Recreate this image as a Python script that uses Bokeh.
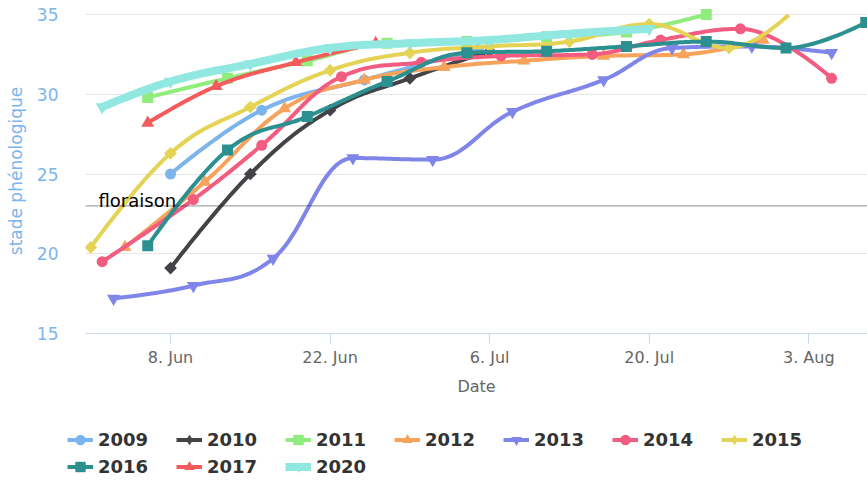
import numpy as np
import pandas as pd
from bokeh.plotting import figure
from bokeh.layouts import column, row
from bokeh.models import Range1d, FixedTicker, Span, Label, Legend, LegendItem
from bokeh.embed import file_html
from bokeh.resources import INLINE

# ---------------- data (dates as MM-DD, values = stade phénologique) ----------------
years = ["2009", "2010", "2011", "2012", "2013", "2014", "2015", "2016", "2017", "2020"]

dates_2009 = ["06-08", "06-16", "06-25", "07-05"]
vals_2009 = [25.0, 29.0, 30.9, 32.8]

dates_2010 = ["06-08", "06-15", "06-22", "06-29", "07-06"]
vals_2010 = [19.1, 25.0, 29.0, 31.0, 32.7]

dates_2011 = ["06-06", "06-13", "06-20", "06-27", "07-04", "07-11", "07-18", "07-25"]
vals_2011 = [29.8, 31.0, 32.1, 33.2, 33.3, 33.6, 33.9, 35.0]

dates_2012 = ["06-04", "06-11", "06-18", "06-25", "07-02", "07-09", "07-16", "07-23", "07-30"]
vals_2012 = [20.4, 24.5, 29.1, 30.9, 31.7, 32.1, 32.4, 32.5, 33.4]

dates_2013 = ["06-03", "06-10", "06-17", "06-24", "07-01", "07-08", "07-16", "07-22", "07-29", "08-05"]
vals_2013 = [17.2, 18.0, 19.7, 26.0, 25.9, 28.9, 30.9, 32.9, 33.0, 32.6]

dates_2014 = ["06-02", "06-10", "06-16", "06-23", "06-30", "07-07", "07-15", "07-21", "07-28", "08-05"]
vals_2014 = [19.5, 23.4, 26.8, 31.1, 32.0, 32.4, 32.5, 33.4, 34.1, 31.0]

dates_2015 = ["06-01", "06-08", "06-15", "06-22", "06-29", "07-06", "07-13", "07-20", "07-27", "08-03"]
vals_2015 = [20.4, 26.3, 29.2, 31.5, 32.6, 33.0, 33.3, 34.4, 32.9, 36.2]

dates_2016 = ["06-06", "06-13", "06-20", "06-27", "07-04", "07-11", "07-18", "07-25", "08-01", "08-08"]
vals_2016 = [20.5, 26.5, 28.6, 30.8, 32.6, 32.7, 33.0, 33.3, 32.9, 34.5]

dates_2017 = ["06-06", "06-12", "06-19", "06-26"]
vals_2017 = [28.2, 30.5, 32.0, 33.2]

dates_2020 = ["06-02", "06-08", "06-15", "06-22", "06-29", "07-06", "07-13", "07-20"]
vals_2020 = [29.2, 30.8, 31.9, 32.9, 33.2, 33.4, 33.8, 34.1]

tick_dates = ["06-08", "06-22", "07-06", "07-20", "08-03"]
tick_labels = ["8. Jun", "22. Jun", "6. Jul", "20. Jul", "3. Aug"]
y_ticks = [15, 20, 25, 30, 35]
floraison_value = 23

series_dates = [dates_2009, dates_2010, dates_2011, dates_2012, dates_2013,
                dates_2014, dates_2015, dates_2016, dates_2017, dates_2020]
series_vals = [vals_2009, vals_2010, vals_2011, vals_2012, vals_2013,
               vals_2014, vals_2015, vals_2016, vals_2017, vals_2020]

# ---------------- styles ----------------
colors = ["#7cb5ec", "#434348", "#90ed7d", "#f7a35c", "#8085e9",
          "#f15c80", "#e4d354", "#2b908f", "#f45b5b", "#91e8e1"]
markers = ["circle", "diamond", "square", "triangle", "inverted_triangle"]
FONT = "DejaVu Sans"


def doy(md):
    return pd.Timestamp("2021-" + md).dayofyear


def spline(xs, ys, n=30):
    """Highcharts-like spline path (smoothing 1.5) through the points."""
    xs = np.asarray(xs, float)
    ys = np.asarray(ys, float)
    m = len(xs)
    s, d = 1.5, 2.5
    lc = [(xs[i], ys[i]) for i in range(m)]
    rc = [(xs[i], ys[i]) for i in range(m)]
    for i in range(1, m - 1):
        px, py = xs[i], ys[i]
        lx, ly = xs[i - 1], ys[i - 1]
        nx, ny = xs[i + 1], ys[i + 1]
        lcx, lcy = (s * px + lx) / d, (s * py + ly) / d
        rcx, rcy = (s * px + nx) / d, (s * py + ny) / d
        corr = 0.0
        if rcx != lcx:
            corr = (rcy - lcy) * (rcx - px) / (rcx - lcx) + py - rcy
        lcy += corr
        rcy += corr
        if lcy > ly and lcy > py:
            lcy = max(ly, py); rcy = 2 * py - lcy
        elif lcy < ly and lcy < py:
            lcy = min(ly, py); rcy = 2 * py - lcy
        if rcy > ny and rcy > py:
            rcy = max(ny, py); lcy = 2 * py - rcy
        elif rcy < ny and rcy < py:
            rcy = min(ny, py); lcy = 2 * py - rcy
        lc[i] = (lcx, lcy)
        rc[i] = (rcx, rcy)
    outx, outy = [xs[0]], [ys[0]]
    t = np.linspace(0, 1, n)[1:]
    for i in range(1, m):
        p0 = np.array([xs[i - 1], ys[i - 1]])
        c1 = np.array(rc[i - 1])
        c2 = np.array(lc[i])
        p3 = np.array([xs[i], ys[i]])
        pts = ((1 - t) ** 3)[:, None] * p0 + (3 * (1 - t) ** 2 * t)[:, None] * c1 \
            + (3 * (1 - t) * t ** 2)[:, None] * c2 + (t ** 3)[:, None] * p3
        outx.extend(pts[:, 0])
        outy.extend(pts[:, 1])
    return np.array(outx), np.array(outy)


y_top = max(y_ticks)
x_start = doy(tick_dates[0]) - 7.46
x_end = doy(tick_dates[-1]) + 5.15

p = figure(width=867, height=403, output_backend="svg", toolbar_location=None,
           x_range=Range1d(x_start, x_end),
           y_range=Range1d(min(y_ticks), y_top + 6 / 15.95),
           min_border_left=85, min_border_right=0, min_border_top=8,
           min_border_bottom=70)
p.outline_line_color = None
p.xgrid.grid_line_color = None
p.ygrid.grid_line_color = "#e6e6e6"
p.ygrid.grid_line_width = 1

tick_x = [doy(t) for t in tick_dates]
p.xaxis.ticker = FixedTicker(ticks=tick_x)
p.xaxis.major_label_overrides = {int(k): v for k, v in zip(tick_x, tick_labels)}
p.xaxis.axis_line_color = "#ccd6eb"
p.xaxis.major_tick_line_color = "#ccd6eb"
p.xaxis.major_tick_out = 10
p.xaxis.major_tick_in = 0
p.xaxis.minor_tick_line_color = None
p.xaxis.major_label_text_color = "#666666"
p.xaxis.major_label_text_font = FONT
p.xaxis.major_label_text_font_size = "16px"
p.xaxis.major_label_standoff = 4
p.xaxis.axis_label = "Date"
p.xaxis.axis_label_text_color = "#666666"
p.xaxis.axis_label_text_font = FONT
p.xaxis.axis_label_text_font_size = "16px"
p.xaxis.axis_label_text_font_style = "normal"
p.xaxis.axis_label_standoff = 7

p.yaxis.ticker = FixedTicker(ticks=y_ticks)
p.yaxis.axis_line_color = None
p.yaxis.major_tick_line_color = None
p.yaxis.minor_tick_line_color = None
p.yaxis.major_label_text_color = "#7cb5ec"
p.yaxis.major_label_text_font = FONT
p.yaxis.major_label_text_font_size = "17px"
p.yaxis.major_label_standoff = 21
p.yaxis.axis_label = "stade phénologique"
p.yaxis.axis_label_text_color = "#7cb5ec"
p.yaxis.axis_label_text_font = FONT
p.yaxis.axis_label_text_font_size = "17px"
p.yaxis.axis_label_text_font_style = "normal"
p.yaxis.axis_label_standoff = 8

p.add_layout(Span(location=floraison_value, dimension="width", line_color="#222222",
                  line_dash="1 1", line_width=1))
p.add_layout(Label(x=13, x_units="screen", y=floraison_value, y_offset=5,
                   text="floraison", text_font=FONT, text_font_size="18px",
                   text_color="#000000", text_baseline="alphabetic"))

# legend-only figure below the chart (proxies use the same data, outside its ranges)
pl = figure(width=867, height=77, output_backend="svg", toolbar_location=None,
            x_range=Range1d(0, 1), y_range=Range1d(0, 1),
            x_axis_location=None, y_axis_location=None,
            min_border_left=0, min_border_right=0, min_border_top=0,
            min_border_bottom=0)
pl.outline_line_color = None
pl.grid.grid_line_color = None

items = []
for i, (yr, ds, vs) in enumerate(zip(years, series_dates, series_vals)):
    xs = [doy(dd) for dd in ds]
    sx, sy = spline(xs, vs)
    sy = np.where(sy > y_top, np.nan, sy)
    lw = 8 if yr == "2020" else 4
    mk = markers[i % 5]
    angle = 0.0
    size = 11
    lmk, lsize = mk, size
    if mk == "diamond":
        mk = "square"; angle = np.pi / 4; size = 9
        lsize = 14
    elif mk in ("triangle", "inverted_triangle"):
        size = 13
        lsize = 13
    p.line(sx, sy, line_color=colors[i], line_width=lw, line_join="round")
    p.scatter(xs, vs, marker=mk, size=size, angle=angle,
              fill_color=colors[i], line_color=None)
    lr = pl.line(xs, vs, line_color=colors[i], line_width=lw)
    sr = pl.scatter(xs, vs, marker=lmk, size=lsize,
                    fill_color=colors[i], line_color=None)
    items.append(LegendItem(label=yr, renderers=[lr, sr]))

legend = Legend(items=items, orientation="horizontal", ncols=7,
                location=(67, 0), padding=0, margin=0, spacing=0,
                glyph_width=26, glyph_height=27, label_height=27,
                label_width=78, label_standoff=5,
                label_text_font=FONT, label_text_font_size="18px",
                label_text_font_style="bold", label_text_color="#333333",
                border_line_color=None, background_fill_alpha=0)
pl.add_layout(legend)

layout = column(p, row(pl), spacing=0)
open("out.html", "w").write(file_html(layout, INLINE))
